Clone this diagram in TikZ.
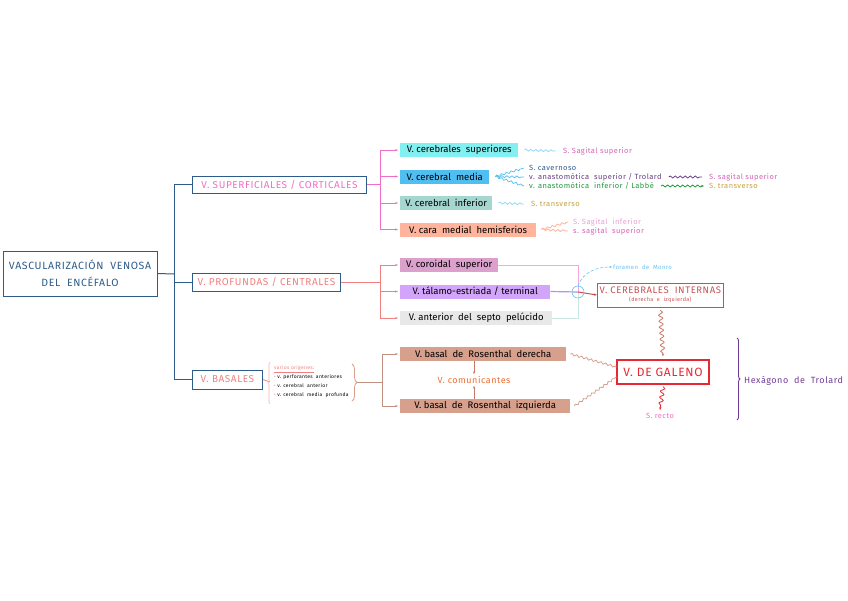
\documentclass[tikz,border=0pt]{standalone}
\usepackage{fontspec}
\setmainfont{Fira Sans}
\usetikzlibrary{arrows.meta,decorations.pathmorphing,decorations.pathreplacing}

\definecolor{azul}{RGB}{46,92,138}
\definecolor{rosa}{RGB}{240,110,200}
\definecolor{salmon}{RGB}{240,128,128}
\definecolor{magenta}{RGB}{210,100,180}
\definecolor{rosaclaro}{RGB}{232,160,208}
\definecolor{cian}{RGB}{130,240,240}
\definecolor{celeste}{RGB}{80,190,240}
\definecolor{turquesa}{RGB}{165,215,208}
\definecolor{durazno}{RGB}{255,180,155}
\definecolor{lila}{RGB}{220,160,205}
\definecolor{lavanda}{RGB}{210,165,250}
\definecolor{gris}{RGB}{232,232,232}
\definecolor{basal}{RGB}{215,160,140}
\definecolor{cafe}{RGB}{200,120,105}
\definecolor{rojo}{RGB}{230,40,50}
\definecolor{granate}{RGB}{200,80,80}
\definecolor{morado}{RGB}{110,60,150}
\definecolor{violeta}{RGB}{100,60,130}
\definecolor{verde}{RGB}{30,150,60}
\definecolor{oro}{RGB}{200,160,60}
\definecolor{naranja}{RGB}{240,110,50}

\newcommand{\ancho}{\addfontfeatures{LetterSpace=6}}

\begin{document}
\begin{tikzpicture}[x=1pt, y=-1pt, >={Stealth[length=3pt]},
  every node/.style={font=\fontsize{9.5}{10}\selectfont, inner sep=2pt},
  catbox/.style={draw=azul, line width=0.9pt, anchor=west, minimum height=17pt, font=\fontsize{10}{10}\selectfont\ancho},
  vena/.style={anchor=west, minimum height=14pt, inner sep=2pt},
  seno/.style={anchor=west, font=\fontsize{7.5}{8}\selectfont\ancho, inner sep=1pt},
  onda/.style={decorate, decoration={snake, amplitude=1pt, segment length=5pt, post length=2pt}},
  bajada/.style={decorate, decoration={snake, amplitude=2pt, segment length=6pt, post length=3pt}}]
	\useasboundingbox (0,0) rectangle (848,600);
	% raiz
	\node[draw=azul, line width=1pt, text=azul, minimum width=154pt, minimum height=45pt, align=center, font=\fontsize{10.5}{17}\selectfont\ancho] (enc) at (80,273.5) {VASCULARIZACIÓN \ VENOSA\\DEL \ ENCÉFALO};
	\coordinate (tr) at (174,274);
	\node[catbox, text=rosa, minimum width=174pt] (sup) at (192,184.5) {V. SUPERFICIALES / CORTICALES};
	\node[catbox, text=salmon, minimum width=148pt, minimum height=18pt] (pro) at (192,282) {V. PROFUNDAS / CENTRALES};
	\node[catbox, text=salmon, minimum width=70pt, minimum height=19pt] (bas) at (192,379.5) {V. BASALES};
	\draw[azul, line width=1pt] (enc.east) -- (tr);
	\draw[azul, line width=1pt] (sup.west -| tr) -- (bas.west -| tr);
	\foreach \n in {sup,pro,bas} {\draw[azul, line width=1pt] (\n.west -| tr) -- (\n.west);}

	% superficiales
	\node[vena, fill=cian, minimum width=118pt] (cs) at (400,150) {V. cerebrales \ superiores};
	\node[vena, fill=celeste, minimum width=89pt] (cm) at (400,176.5) {V. cerebral \ media};
	\node[vena, fill=turquesa, minimum width=92pt] (ci) at (400,203) {V. cerebral \ inferior};
	\node[vena, fill=durazno, minimum width=136pt] (ch) at (400,229.5) {V. cara \ medial \ hemisferios};
	\coordinate (rs) at (380,184.5);
	\draw[rosa, line width=0.8pt] (sup.east) -- (rs);
	\draw[rosa, line width=0.8pt] (cs.west -| rs) -- (ch.west -| rs);
	\foreach \n in {cs,cm,ci,ch} {\draw[rosa, line width=0.8pt, ->, shorten >=2pt] (\n.west -| rs) -- (\n.west);}

	\node[seno, text=magenta] (ss1) at (562,151) {S. Sagital superior};
	\draw[onda, celeste!60, line width=0.8pt] ([xshift=6pt]cs.east) -- ([xshift=-6pt]ss1.west);
	\node[seno, text=azul] (cav) at (528,168) {S. cavernoso};
	\node[seno, text=violeta] (tro) at (528,177) {v. anastomótica \ superior / Trolard};
	\node[seno, text=verde] (lab) at (528,186) {v. anastomótica \ inferior / Labbé};
	\foreach \n in {cav,tro,lab} {\draw[onda, celeste, line width=0.7pt] ([xshift=6pt]cm.east) -- ([xshift=-4pt]\n.west);}
	\node[seno, text=magenta] (ss2) at (708,177) {S. sagital superior};
	\node[seno, text=oro] (st1) at (708,186) {S. transverso};
	\draw[onda, violeta, line width=0.8pt] ([xshift=6pt]tro.east) -- ([xshift=-6pt]ss2.west);
	\draw[onda, verde, line width=0.8pt, ->] ([xshift=6pt]lab.east) -- ([xshift=-4pt]st1.west);
	\node[seno, text=oro] (st2) at (530,204) {S. transverso};
	\draw[onda, celeste!60, line width=0.8pt] ([xshift=6pt]ci.east) -- ([xshift=-6pt]st2.west);
	\node[seno, text=rosaclaro] (si) at (572,222) {S. Sagital \ inferior};
	\node[seno, text=magenta] (ss3) at (572,231) {s. sagital \ superior};
	\foreach \n in {si,ss3} {\draw[onda, durazno, line width=0.8pt] ([xshift=5pt]ch.east) -- ([xshift=-4pt]\n.west);}

	% profundas
	\node[vena, fill=lila, minimum width=98pt] (cor) at (400,265) {V. coroidal \ superior};
	\node[vena, fill=lavanda, minimum width=150pt] (tal) at (400,291.5) {V. tálamo-estriada / terminal};
	\node[vena, fill=gris, minimum width=152pt] (sep) at (400,318) {V. anterior \ del \ septo \ pelúcido};
	\coordinate (rp) at (380,282);
	\draw[salmon, line width=0.8pt] (pro.east) -- (rp);
	\draw[salmon, line width=0.8pt] (cor.west -| rp) -- (sep.west -| rp);
	\foreach \n in {cor,tal,sep} {\draw[salmon, line width=0.8pt, ->, shorten >=2pt] (\n.west -| rp) -- (\n.west);}
	\coordinate (fm) at (578,292);
	\node[draw=granate, line width=0.7pt, anchor=west, minimum width=126pt, minimum height=24pt, text=granate, align=center, font=\fontsize{9.5}{9}\selectfont\ancho] (int) at (597,295) {V. CEREBRALES \ INTERNAS\\[-1pt]{\fontsize{5.5}{5}\selectfont (derecha \ e \ izquierda)}};
	\draw[rosa!60, line width=0.8pt] (cor.east) -| (fm);
	\draw[lavanda!80!violeta, line width=1.2pt] (tal.east) -- (fm);
	\draw[turquesa!60, line width=0.8pt] (sep.east) -| (fm);
	\draw[granate, line width=1pt, ->] (fm) -- (int.west);
	\draw[cian!80!blue, line width=0.6pt] (fm) circle (6pt);
	\node[seno, text=cian!80!blue, font=\fontsize{6}{6}\selectfont\ancho] (mon) at (612,267) {foramen \ de \ Monro};
	\draw[cian!80!blue, line width=0.6pt, densely dashed, ->] ([yshift=6pt]fm) to[out=70, in=180] (mon.west);

	% galeno
	\node[draw=rojo, line width=1.1pt, text=rojo, minimum width=92pt, minimum height=24pt, font=\fontsize{12}{12}\selectfont\ancho] (gal) at (663,372) {V. DE GALENO};
	\node[seno, anchor=center, text=rosa] (rec) at (660,416) {S. recto};
	\draw[bajada, cafe, line width=0.8pt, ->] ([yshift=-3pt]int.south) -- ([yshift=3pt]gal.north);
	\draw[bajada, rojo, line width=0.8pt, ->] ([yshift=-2pt]gal.south) -- ([yshift=2pt]rec.north);

	% basales
	\node[anchor=west, align=left, inner sep=0pt, font=\fontsize{5}{9}\selectfont\ancho] (ori) at (274,382) {\textcolor{salmon}{\underline{varios orígenes:}}\\\textcolor{salmon}{•} v. perforantes \ anteriores\\\textcolor{salmon}{•} v. cerebral \ anterior\\\textcolor{salmon}{•} v. cerebral \ media \ profunda};
	\draw[salmon, line width=0.8pt] (bas.east) -- (270,382);
	\draw[salmon!60, line width=0.6pt, decorate, decoration={brace, amplitude=2pt}] (270,404) -- (270,362);
	\draw[basal, line width=0.8pt, decorate, decoration={brace, amplitude=5pt}] (352,364) -- (352,401);
	\node[vena, fill=basal, minimum width=166pt] (bd) at (400,354) {V. basal \ de \ Rosenthal \ derecha};
	\node[vena, fill=basal, minimum width=170pt] (bi) at (400,406) {V. basal \ de \ Rosenthal \ izquierda};
	\coordinate (rb) at (382,382.5);
	\draw[basal!90!black, line width=0.8pt] (357,382.5) -- (rb);
	\draw[basal!90!black, line width=0.8pt] (bd.west -| rb) -- (bi.west -| rb);
	\foreach \n in {bd,bi} {\draw[basal!90!black, line width=0.8pt, ->, shorten >=2pt] (\n.west -| rb) -- (\n.west);}
	\node[text=naranja, font=\fontsize{9}{9}\selectfont\ancho] (com) at (474,380) {V. comunicantes};
	\draw[cafe, line width=0.8pt, ->] (com.north |- bd.south) -- (com.north);
	\draw[cafe, line width=0.8pt, ->] (com.south |- bi.north) -- (com.south);
	\draw[onda, basal, line width=0.8pt] ([xshift=4pt]bd.east) -- ([yshift=5pt]gal.west);
	\draw[onda, basal, line width=0.8pt] ([xshift=4pt]bi.east) -- ([yshift=-5pt]gal.west);

	% hexagono
	\draw[morado, line width=0.9pt, decorate, decoration={brace, amplitude=3pt}] (737,338) -- (737,420);
	\node[anchor=west, text=morado, font=\fontsize{9}{9}\selectfont\ancho] (hex) at (742,381) {Hexágono \ de \ Trolard};
\end{tikzpicture}
\end{document}
